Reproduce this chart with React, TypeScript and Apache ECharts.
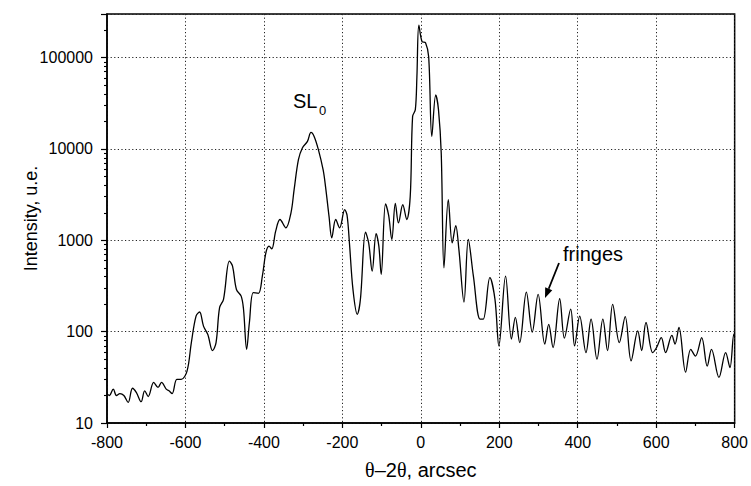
import React, { useEffect, useRef } from "react";
import * as echarts from "echarts";

// θ–2θ offset (arcsec)
const xValues: number[] = [
  -800, -794, -784, -776, -767, -757, -746, -735, -725, -713, -704, -695, -681, -670, -661, -649, -642, -634,
  -622, -611, -596, -585, -573, -564, -554, -543, -531, -522, -513, -503, -488, -480, -470, -458, -452, -444,
  -437, -427, -414, -404, -395, -387, -380, -370, -359, -344, -331, -323, -312, -302, -289, -280, -272, -261,
  -249, -243, -234, -227, -217, -207, -194, -188, -182, -173, -162, -154, -141, -133, -124, -114, -107, -101,
  -90, -82, -74, -65, -57, -46, -36, -27, -21, -14, -10, -5, 3, 12, 20, 28, 38, 45, 52, 59, 70, 80, 89, 97,
  110, 121, 134, 151, 159, 176, 189, 199, 216, 231, 241, 252, 269, 284, 299, 316, 326, 337, 354, 366, 382,
  392, 405, 421, 434, 449, 464, 476, 489, 506, 521, 536, 553, 563, 574, 591, 601, 613, 624, 640, 648, 658,
  675, 688, 700, 716, 730, 741, 760, 777, 788, 798, 800,
];
// Intensity (u.e.)
const intensity: number[] = [
  21, 20, 23.5, 20, 21, 20, 16.8, 24, 21.5, 17.1, 22.5, 19.5, 27.8, 24.5, 27.8, 23.5, 22.5, 21,
  30, 30, 37, 76, 148, 164, 115, 93, 62, 76, 183, 226, 591, 521, 289, 245, 176, 64,
  126, 267, 263, 405, 730, 863, 807, 1260, 1690, 1370, 2000, 3590, 7630, 10230, 12100, 15150, 13700, 9770,
  5890, 3900, 1830, 1065, 1690, 1370, 2170, 1870, 935, 290, 155, 226, 1225, 935, 460, 1185, 863, 424,
  2510, 1870, 1020, 2540, 1550, 2450, 1690, 3030, 22600, 26900, 61800, 227000, 150000, 145000, 102000, 13700, 39000, 26900, 9020, 500, 2790, 935, 1450, 795,
  211, 1020, 405, 137, 137, 390, 226, 70, 405, 83, 143, 76, 271, 99, 256, 73, 120, 67, 229, 85, 176,
  70, 148, 59, 137, 50, 137, 62, 199, 76, 146, 48, 102, 62, 126, 59, 67, 86, 59, 91, 73, 111,
  36, 64, 54, 86, 42, 64, 31.6, 59, 40.5, 94, 88,
];

const xTicks = { min: -800, max: 800, interval: 200 };
const yRange = { min: 10, max: 300000 };
const minorTickValues: number[] = [];
for (let d = 10; d < 300000; d *= 10) {
  for (let k = 2; k <= 9; k++) {
    if (d * k < 300000) minorTickValues.push(Math.log10(d * k));
  }
}

const FONT = "'Liberation Sans', Arial, sans-serif";

export default function App() {
  const ref = useRef<HTMLDivElement>(null);
  useEffect(() => {
    if (!ref.current) return;
    const chart = echarts.init(ref.current, undefined, { renderer: "svg" });
    const data = xValues.map((x, i) => [x, intensity[i]]);
    const dotted = { color: "#222", width: 1, type: [1.2, 2.4] as any };
    const ax = { x1: 559, y1: 263, tx: 545, ty: 298 };
    const dx = ax.tx - ax.x1, dy = ax.ty - ax.y1;
    const len = Math.hypot(dx, dy);
    const ux = dx / len, uy = dy / len;
    const hl = 10, hw = 3.8;
    const bx = ax.tx - ux * hl, by = ax.ty - uy * hl;
    chart.setOption({
      animation: false,
      backgroundColor: "#fff",
      grid: {
        left: 107, right: 14, top: 14, bottom: 63,
        show: true, borderColor: "#000", borderWidth: 1.5, backgroundColor: "transparent",
      },
      xAxis: {
        type: "value",
        min: xTicks.min, max: xTicks.max, interval: xTicks.interval,
        name: "{g|θ}–2{g|θ}, arcsec",
        nameLocation: "middle",
        nameGap: 37,
        nameMoveOverlap: false,
        nameTextStyle: {
          fontFamily: FONT, fontSize: 20, color: "#000",
          rich: { g: { fontFamily: "'Liberation Serif', 'DejaVu Serif', serif", fontSize: 20, color: "#000" } },
        },
        axisLine: { onZero: false, lineStyle: { color: "#000", width: 1.5 } },
        axisTick: { show: true, length: 5, lineStyle: { color: "#000", width: 1.2 } },
        minorTick: { show: true, splitNumber: 2, length: 3, lineStyle: { color: "#000", width: 1.2 } },
        axisLabel: { fontFamily: FONT, fontSize: 16, color: "#000", margin: 11 },
        splitLine: { show: true, lineStyle: dotted },
      },
      yAxis: [
        {
          type: "log",
          logBase: 10,
          min: yRange.min, max: yRange.max,
          name: "Intensity, u.e.",
          nameLocation: "middle",
          nameGap: 67,
          nameMoveOverlap: false,
          nameTextStyle: { fontFamily: FONT, fontSize: 18, color: "#000" },
          axisLine: { show: true, onZero: false, lineStyle: { color: "#000", width: 1.5 } },
          axisTick: { show: true, length: 6, lineStyle: { color: "#000", width: 1.2 } },
          axisLabel: {
            fontFamily: FONT, fontSize: 16, color: "#000", margin: 14,
            formatter: (v: number) => {
              const l = Math.log10(v);
              return Math.abs(l - Math.round(l)) < 1e-6 ? String(Math.round(v)) : "";
            },
          },
          splitLine: { show: true, lineStyle: dotted },
        },
        {
          type: "value",
          position: "left",
          min: Math.log10(yRange.min), max: Math.log10(yRange.max),
          axisLine: { show: false, onZero: false },
          axisLabel: { show: false },
          splitLine: { show: false },
          axisTick: { show: true, length: 3, customValues: minorTickValues, lineStyle: { color: "#000", width: 1.1 } },
        },
      ],
      series: [
        {
          type: "line",
          data,
          yAxisIndex: 0,
          showSymbol: false,
          smooth: 0.35,
          lineStyle: { color: "#000", width: 1.3 },
          silent: true,
        },
      ],
      graphic: [
        { type: "text", x: 293, y: 101, style: { text: "SL", font: `20px ${FONT}`, fill: "#000", verticalAlign: "middle" } },
        { type: "text", x: 319, y: 110, style: { text: "0", font: `13px ${FONT}`, fill: "#000", verticalAlign: "middle" } },
        { type: "text", x: 563, y: 254, style: { text: "fringes", font: `20px ${FONT}`, fill: "#000", verticalAlign: "middle" } },
        { type: "line", shape: { x1: ax.x1, y1: ax.y1, x2: bx, y2: by }, style: { stroke: "#000", lineWidth: 1.8 } },
        {
          type: "polygon",
          shape: { points: [[ax.tx, ax.ty], [bx - uy * hw, by + ux * hw], [bx + uy * hw, by - ux * hw]] },
          style: { fill: "#000" },
        },
      ],
    });
    return () => chart.dispose();
  }, []);
  return <div ref={ref} style={{ width: 751, height: 486, position: "absolute", left: 0, top: 0 }} />;
}
